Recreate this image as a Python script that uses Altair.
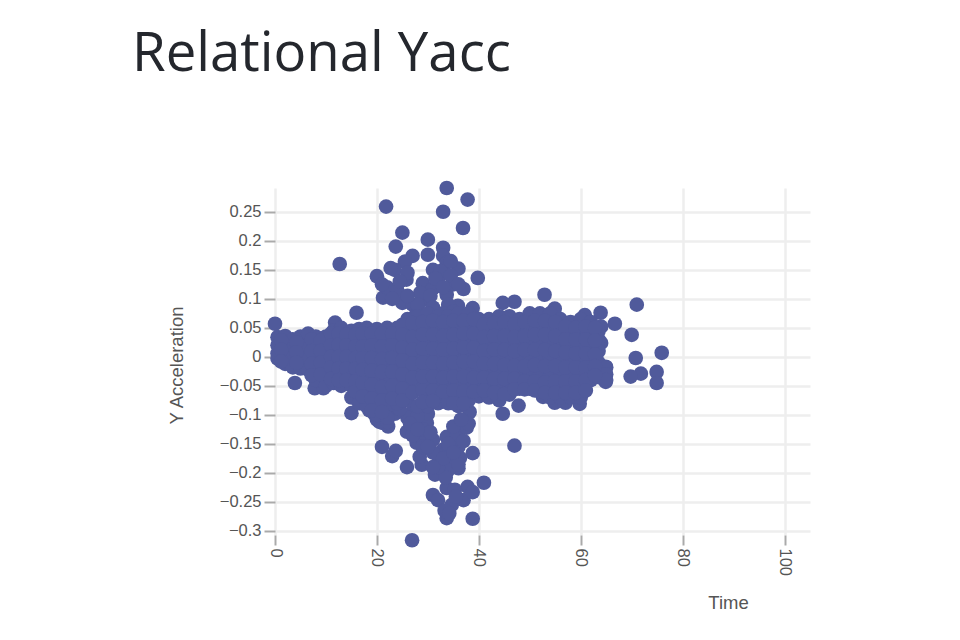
import altair as alt
import pandas as pd

TITLE = "Relational Yacc"
x_ticks = [0, 20, 40, 60, 80, 100]
y_ticks = [0.25, 0.2, 0.15, 0.1, 0.05, 0, -0.05, -0.1, -0.15, -0.2, -0.25, -0.3]

upper_time = [33.7, 37.8, 33, 21.8, 36.9, 12.7, 25, 23.7, 30, 33, 33, 30, 27, 25.5, 23.5, 20, 22.7, 36, 39.8, 37, 25.8,
              21.2, 25, 29, 31, 33.7, 29, 33.7, 35.9, 38.8, 16, 0, 11.8, 22, 24, 27, 31, 35, 32, 28,
              21, 23, 26, 24.5, 28.5, 30.5, 32.5, 34.5, 36, 34, 31, 28, 27.5, 30, 33, 35, 26, 31.5, 33, 34.5]
upper_accel = [.291, .271, .25, .259, .222, .16, .214, .19, .202, .188, .174, .176, .174, .164, .15, .139, .153, .152,
               .136, .117, .133, .102, .093, .127, .15, .162, .098, .107, .088, .084, .076, .057, .059, .12, .115,
               .09, .118, .125, .135, .08,
               .125, .1, .145, .13, .11, .105, .148, .14, .125, .09, .085, .09, .07, .072, .075, .078, .105, .135, .12, .165]

lower_time = [26.9, 33.7, 38.8, 34.7, 31, 32, 33.7, 37, 37.8, 38.8, 41, 35.3, 35.5, 31.4, 36, 25.9, 28.8, 38.8, 23, 23.7,
              21, 28.4, 32.4, 34.3, 36.3, 33, 27.8, 25.9, 27, 29.8, 28.8, 31, 33.7, 35.7, 37.6, 38.2, 21.2, 20, 22.2,
              15, 3.9, 7.8, 9.5, 27, 30, 29, 26, 32, 34, 36, 33.5, 38,
              33.3, 34.2, 29, 31, 27, 28, 30.5, 36, 37, 35, 32, 26.5, 24, 23, 19, 21, 18, 16.5, 28, 30, 33, 34, 35, 36.5, 31,
              19.5, 20.5, 22, 23.5, 24.5, 18.5, 17]
lower_accel = [-.316, -.278, -.279, -.255, -.238, -.247, -.226, -.247, -.224, -.233, -.217, -.229, -.241, -.203, -.192,
               -.19, -.186, -.166, -.171, -.162, -.155, -.172, -.183, -.178, -.174, -.16, -.148, -.129, -.114, -.114,
               -.138, -.143, -.138, -.134, -.122, -.095, -.114, -.108, -.12, -.097, -.045, -.054, -.054, -.095,
               -.098, -.125, -.105, -.17, -.195, -.155, -.208, -.115,
               -.265, -.27, -.155, -.165, -.135, -.102, -.13, -.185, -.145, -.12, -.19, -.115, -.095, -.09,
               -.09, -.1, -.075, -.07, -.125, -.155, -.175, -.15, -.165, -.108, -.19,
               -.098, -.112, -.112, -.098, -.09, -.092, -.08]

right_time = [52.9, 71, 66.7, 70, 75.9, 70.8, 74.9, 74.9, 71.8, 69.8, 47.8, 44.7, 47, 59.8, 57, 54.9, 52.6, 64.9, 64.9,
              64, 64, 63.9, 60.8, 54.9, 47, 44.7]
right_accel = [.107, .09, .057, .038, .007, -.002, -.026, -.045, -.029, -.034, -.084, -.098, -.153, -.081, -.079, -.079,
               -.069, -.043, -.017, .024, .052, .076, .072, .083, .095, .093]

blob_01 = (0.5, [.034, .02, .006, -.003])
blob_02 = (2, [.036, .021, .004, -.012])
blob_03 = (3.5, [.03, .015, 0, -.018])
blob_04 = (5, [.035, .018, 0, -.02])
blob_05 = (6.5, [.04, .02, 0, -.022])
blob_06 = (8, [.035, .018, 0, -.02, -.04])
blob_07 = (10, [.035, .02, .002, -.018, -.038, -.05])
blob_08 = (11.5, [.045, .03, .012, -.008, -.028, -.045])
blob_09 = (13, [.05, .03, .012, -.01, -.03, -.05])
blob_10 = (15, [.045, .028, .01, -.01, -.03, -.05, -.07])
blob_11 = (16.5, [.048, .028, .008, -.012, -.032, -.055, -.08])
blob_12 = (18, [.05, .03, .01, -.012, -.034, -.06, -.085])
blob_13 = (20, [.048, .028, .006, -.015, -.04, -.065, -.085, -.1])
blob_14 = (22, [.05, .03, .008, -.014, -.038, -.062, -.085, -.105])
blob_15 = (24, [.05, .03, .01, -.012, -.035, -.06, -.08])
blob_16 = (26, [.065, .045, .022, 0, -.024, -.05, -.075])
blob_17 = (28, [.07, .05, .025, .002, -.022, -.048, -.085])
blob_18 = (30, [.075, .05, .026, .004, -.02, -.045, -.068, -.085])
blob_19 = (32, [.07, .048, .024, 0, -.025, -.05, -.08])
blob_20 = (34, [.07, .05, .025, .002, -.022, -.048, -.07, -.08])
blob_21 = (36, [.075, .05, .026, .004, -.02, -.045, -.07, -.085])
blob_22 = (38, [.075, .052, .028, .004, -.022, -.05, -.075])
blob_23 = (40, [.065, .045, .022, 0, -.024, -.048, -.068])
blob_24 = (42, [.065, .044, .022, 0, -.024, -.05, -.07])
blob_25 = (44, [.07, .048, .024, 0, -.026, -.052, -.075])
blob_26 = (46, [.07, .046, .022, -.002, -.026, -.05, -.065])
blob_27 = (48, [.065, .044, .02, -.004, -.028, -.055])
blob_28 = (50, [.075, .05, .025, 0, -.026, -.055])
blob_29 = (52, [.075, .05, .024, -.002, -.03, -.06])
blob_30 = (54, [.075, .05, .024, -.002, -.03, -.055, -.07])
blob_31 = (56, [.065, .042, .02, -.004, -.03, -.055, -.07])
blob_32 = (58, [.06, .04, .018, -.006, -.03, -.055, -.07])
blob_33 = (60, [.065, .042, .018, -.006, -.03, -.052, -.07])
blob_34 = (62, [.06, .04, .016, -.008, -.025, -.04])
blob_35 = (63.5, [.045, .03, .01, -.01, -.025, -.035])
blob_36 = (65, [-.018, -.03, -.04])

fill_01 = (1.2, [.028, .012, -.008])
fill_02 = (4.2, [.025, .008, -.01])
fill_03 = (7.2, [.03, .01, -.012, -.032])
fill_04 = (9, [.028, .01, -.01, -.03])
fill_05 = (11, [.04, .02, 0, -.018, -.038])
fill_06 = (12.5, [.04, .021, 0, -.02, -.04])
fill_07 = (14, [.038, .02, 0, -.02, -.04])
fill_08 = (15.8, [.038, .018, -.002, -.02, -.042, -.06])
fill_09 = (17.2, [.04, .018, -.002, -.022, -.045, -.068])
fill_10 = (19, [.04, .02, -.002, -.024, -.048, -.072, -.092])
fill_11 = (21, [.04, .018, -.004, -.026, -.052, -.075, -.095])
fill_12 = (23, [.04, .02, -.002, -.026, -.05, -.072])
fill_13 = (25, [.055, .038, .016, -.006, -.03, -.055, -.075])
fill_14 = (27, [.058, .034, .012, -.012, -.036, -.062])
fill_15 = (29, [.06, .038, .014, -.01, -.034, -.058, -.078])
fill_16 = (31, [.062, .038, .014, -.01, -.034, -.058, -.076])
fill_17 = (33, [.06, .036, .012, -.012, -.036, -.06])
fill_18 = (35, [.062, .038, .014, -.01, -.034, -.058, -.08])
fill_19 = (37, [.062, .04, .016, -.008, -.034, -.06, -.08])
fill_20 = (39, [.065, .04, .016, -.008, -.036, -.06])
fill_21 = (41, [.055, .034, .01, -.012, -.036, -.058])
fill_22 = (43, [.058, .036, .012, -.012, -.038, -.062])
fill_23 = (45, [.06, .036, .012, -.014, -.038, -.064])
fill_24 = (47, [.056, .034, .01, -.016, -.038, -.056])
fill_25 = (49, [.06, .036, .012, -.016, -.042, -.056])
fill_26 = (51, [.062, .038, .012, -.014, -.042, -.058])
fill_27 = (53, [.062, .038, .012, -.016, -.044, -.062])
fill_28 = (55, [.06, .036, .01, -.016, -.042, -.062])
fill_29 = (57, [.052, .03, .008, -.018, -.042, -.062])
fill_30 = (59, [.05, .03, .006, -.018, -.042, -.062])
fill_31 = (61, [.052, .03, .006, -.018, -.04, -.058])
fill_32 = (62.8, [.05, .028, .004, -.016, -.032])

blobs = [blob_01, blob_02, blob_03, blob_04, blob_05, blob_06, blob_07, blob_08, blob_09,
         blob_10, blob_11, blob_12, blob_13, blob_14, blob_15, blob_16, blob_17, blob_18,
         blob_19, blob_20, blob_21, blob_22, blob_23, blob_24, blob_25, blob_26, blob_27,
         blob_28, blob_29, blob_30, blob_31, blob_32, blob_33, blob_34, blob_35, blob_36,
         fill_01, fill_02, fill_03, fill_04, fill_05, fill_06, fill_07, fill_08, fill_09,
         fill_10, fill_11, fill_12, fill_13, fill_14, fill_15, fill_16, fill_17, fill_18,
         fill_19, fill_20, fill_21, fill_22, fill_23, fill_24, fill_25, fill_26, fill_27,
         fill_28, fill_29, fill_30, fill_31, fill_32]

times = upper_time + lower_time + right_time
accels = upper_accel + lower_accel + right_accel
for t, values in blobs:
    times += [t] * len(values)
    accels += values

df = pd.DataFrame({"Time": times, "Y Acceleration": accels})

chart = (
    alt.Chart(df)
    .mark_circle(size=215, opacity=1, color="#505a9b")
    .encode(
        x=alt.X(
            "Time:Q",
            scale=alt.Scale(domain=[0, 105], nice=False, zero=False),
            axis=alt.Axis(
                values=x_ticks, labelAngle=90, labelAlign="left", labelBaseline="middle",
                labelFontSize=16.5, labelColor="#555555", labelFont="Liberation Sans", labelPadding=3,
                tickColor="#aaaaaa", tickSize=10, tickWidth=2,
                grid=True, gridColor="#eeeeee", gridWidth=2.5, domain=False,
                title="Time", titleFontSize=18.5, titleFontWeight="normal", titleColor="#555555",
                titleFont="Liberation Sans", titleX=453, titleY=58,
            ),
        ),
        y=alt.Y(
            "Y Acceleration:Q",
            scale=alt.Scale(domain=[-0.307, 0.291], nice=False, zero=False),
            axis=alt.Axis(
                values=y_ticks, format="~g",
                labelFontSize=16.5, labelColor="#555555", labelFont="Liberation Sans", labelPadding=3,
                tickColor="#aaaaaa", tickSize=11, tickWidth=2,
                grid=True, gridColor="#eeeeee", gridWidth=2.5, domain=False,
                title="Y Acceleration", titleFontSize=18.5, titleFontWeight="normal", titleColor="#555555",
                titleFont="Liberation Sans", titleX=-89, titleY=177,
            ),
        ),
    )
    .properties(
        width=535,
        height=347,
        autosize=alt.AutoSizeParams(type="none"),
        padding={"left": 267, "top": 180, "right": 100, "bottom": 90},
        title=alt.TitleParams(
            TITLE, anchor="start", frame="group", dx=-143, offset=98,
            fontSize=54.5, font="Open Sans", fontWeight="normal", color="#24272d",
        ),
    )
    .configure_view(stroke=None)
)

chart.save("out.html", embed_options={"renderer": "svg", "actions": False})
